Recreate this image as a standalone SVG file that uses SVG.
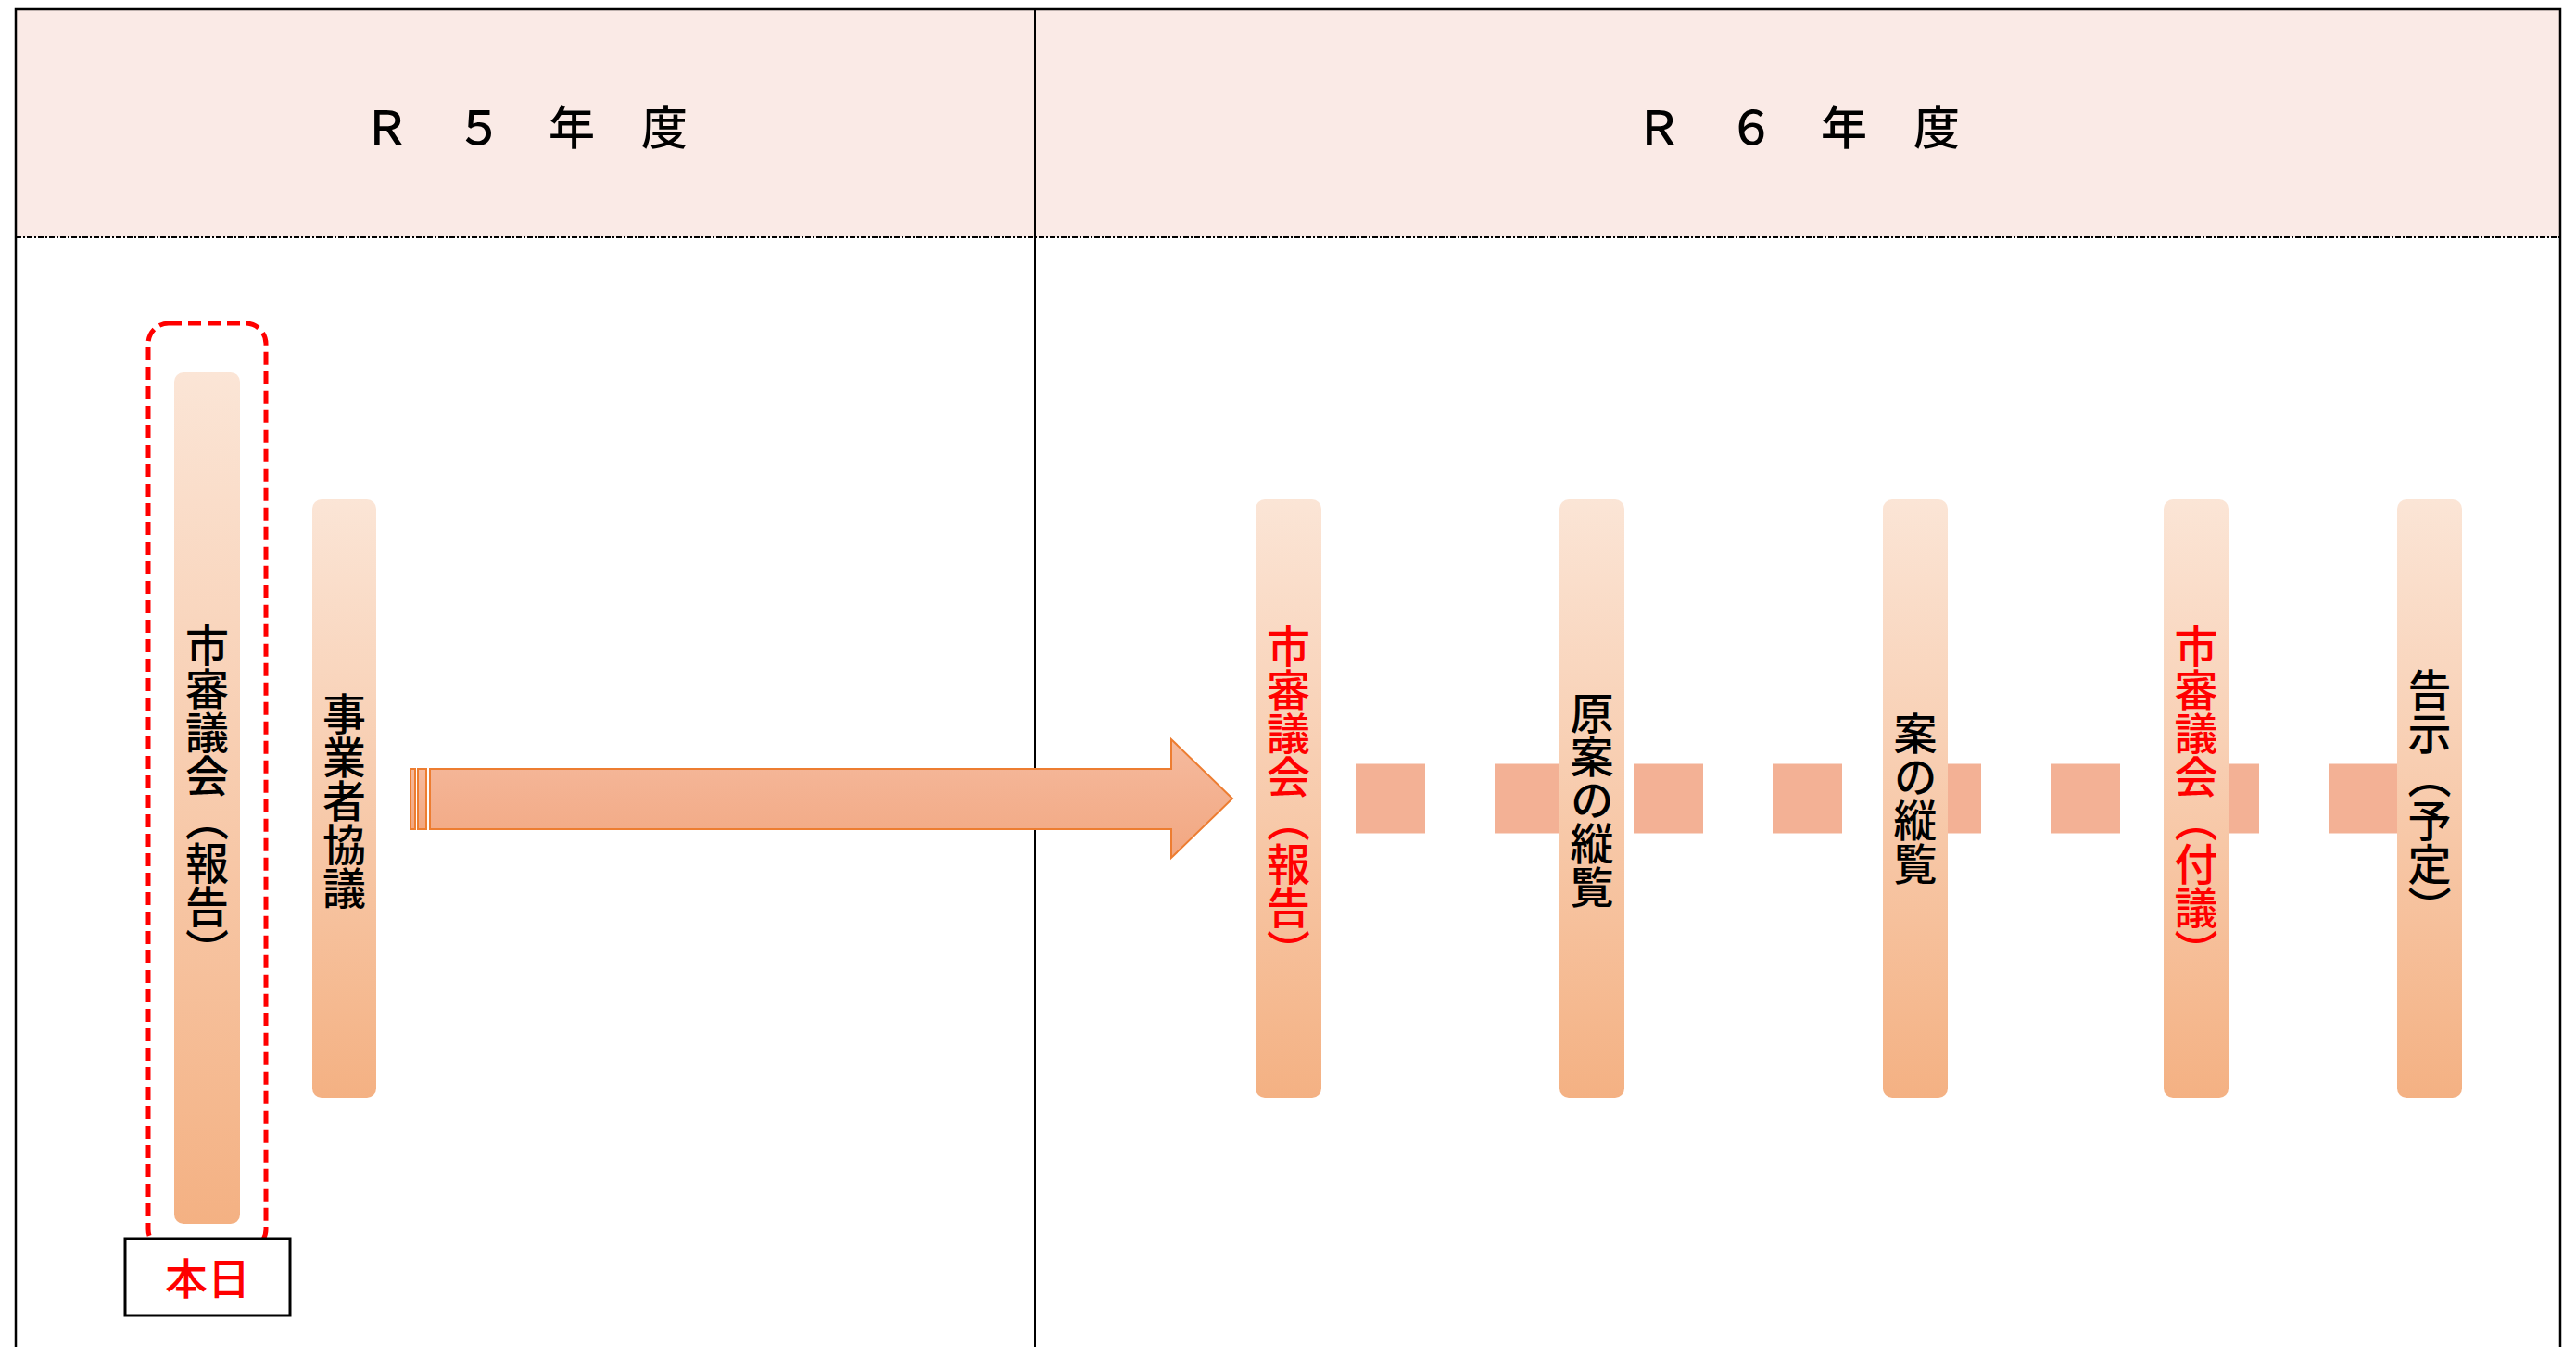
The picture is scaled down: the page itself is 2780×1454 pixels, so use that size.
<svg xmlns="http://www.w3.org/2000/svg" width="2780" height="1454" viewBox="0 0 2780 1454">
<defs>
<linearGradient id="barGrad" x1="0" y1="0" x2="0" y2="1">
<stop offset="0" stop-color="#FBE5D6"/>
<stop offset="1" stop-color="#F4B183"/>
</linearGradient>
<linearGradient id="arrowGrad" x1="0" y1="0" x2="0" y2="1">
<stop offset="0" stop-color="#F5BA9E"/>
<stop offset="1" stop-color="#F2A781"/>
</linearGradient>
<style>
.hdr{font-family:"Noto Sans CJK JP","Noto Sans",sans-serif;font-size:50px;font-weight:500;fill:#000;text-anchor:middle}
.bar{fill:url(#barGrad)}
.vt{font-family:"Noto Sans CJK JP","Noto Sans",sans-serif;font-size:47px;font-weight:500;writing-mode:vertical-rl;text-anchor:middle}
.blk{fill:#000}
.red{fill:#FF0000}
.frame{fill:none;stroke:#000;stroke-width:2.5}
.arrowpart{fill:url(#arrowGrad);stroke:#ED7D31;stroke-width:2}
</style>
</defs>
<rect x="0" y="0" width="2780" height="1454" fill="#fff"/>
<g id="frame">
<rect x="17" y="10" width="2746" height="246" fill="#FAEAE6"/>
<line x1="17" y1="256" x2="2763" y2="256" stroke="#000" stroke-width="2" stroke-dasharray="6 2 2 2"/>
<rect class="frame" x="17" y="10" width="2746" height="1470"/>
<line x1="1117" y1="10" x2="1117" y2="1454" stroke="#000" stroke-width="2"/>
</g>
<g id="header-r5"><text class="hdr" x="567" y="156">Ｒ　５　年　度</text></g>
<g id="header-r6"><text class="hdr" x="1940" y="156">Ｒ　６　年　度</text></g>

<g id="connectors">
<line x1="1463" y1="862" x2="2587" y2="862" stroke="#F3B195" stroke-width="75" stroke-dasharray="75 75"/>
<rect class="arrowpart" x="443" y="830" width="5" height="65"/>
<rect class="arrowpart" x="451" y="830" width="9" height="65"/>
<path class="arrowpart" d="M464 830 H1264 V798 L1330 862 L1264 926 V895 H464 Z"/>
</g>

<g id="today-highlight">
<rect x="160" y="349" width="127" height="1000" rx="22" fill="none" stroke="#FF0000" stroke-width="5" stroke-dasharray="14 7"/>
</g>
<g id="node-r5-shishingikai">
<rect class="bar" x="188" y="402" width="71" height="919" rx="10"/>
<text class="vt blk" x="223.5" y="861">市審議会（報告）</text>
</g>
<g id="node-jigyosha">
<rect class="bar" x="337" y="539" width="69" height="646" rx="10"/>
<text class="vt blk" x="371.5" y="864">事業者協議</text>
</g>
<g id="node-honjitsu">
<rect x="135" y="1337" width="178" height="83" fill="#fff" stroke="#000" stroke-width="3"/>
<text x="224" y="1397" style="font-family:'Noto Sans CJK JP','Noto Sans',sans-serif;font-size:46px;font-weight:500;text-anchor:middle;fill:#FF0000">本日</text>
</g>

<g id="node-r6-shishingikai-hokoku">
<rect class="bar" x="1355" y="539" width="71" height="646" rx="10"/>
<text class="vt red" x="1390.5" y="862">市審議会（報告）</text>
</g>
<g id="node-genan-jurann">
<rect class="bar" x="1683" y="539" width="70" height="646" rx="10"/>
<text class="vt blk" x="1718" y="863">原案の縦覧</text>
</g>
<g id="node-an-jurann">
<rect class="bar" x="2032" y="539" width="70" height="646" rx="10"/>
<text class="vt blk" x="2067" y="862">案の縦覧</text>
</g>
<g id="node-r6-shishingikai-fugi">
<rect class="bar" x="2335" y="539" width="70" height="646" rx="10"/>
<text class="vt red" x="2370" y="862">市審議会（付議）</text>
</g>
<g id="node-kokuji">
<rect class="bar" x="2587" y="539" width="70" height="646" rx="10"/>
<text class="vt blk" x="2622" y="862">告示（予定）</text>
</g>
</svg>
